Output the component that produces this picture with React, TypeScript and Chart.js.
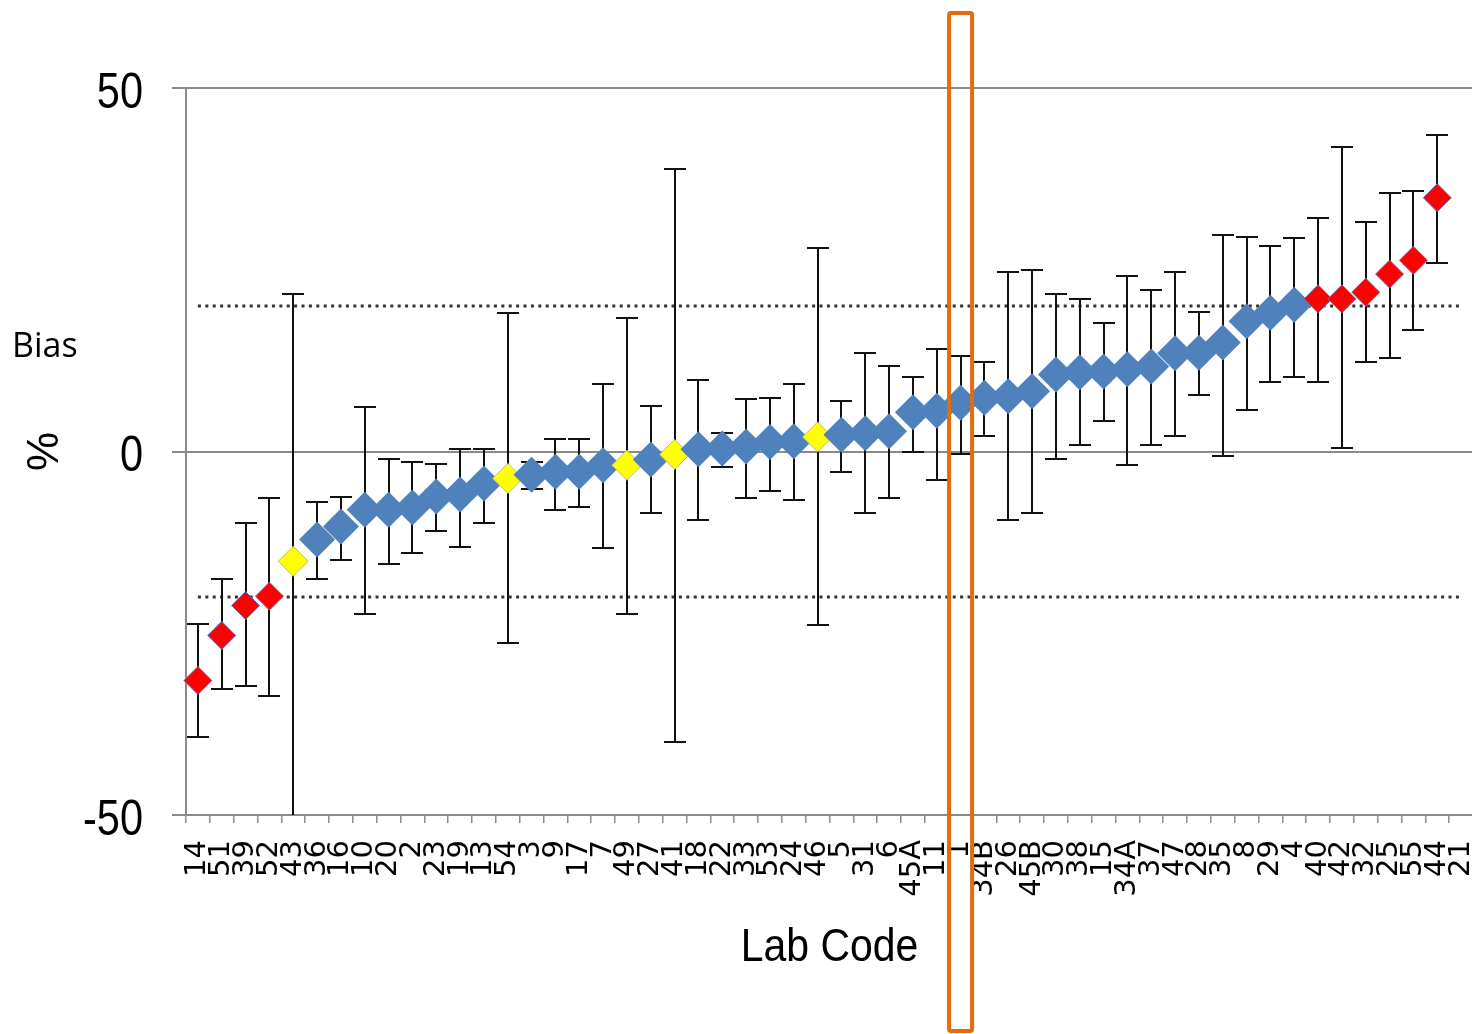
import React, { useEffect, useRef } from 'react';
import { Chart, registerables } from 'chart.js';

Chart.register(...registerables);

// ---- data ----
const labCodes = ['14','51','39','52','43','36','16','10','20','2','23','19','13','54','3','9','17','7','49','27','41','18','22','33','53','24','46','5','31','6','45A','11','1','34B','26','45B','30','38','15','34A','37','47','28','35','8','29','4','40','42','32','25','55','44','21'];

const biasValues: (number | null)[] = [-31.5,-25.3,-21.2,-19.9,-15.1,-12.1,-10.3,-8.0,-8.0,-7.7,-6.2,-5.9,-4.4,-3.7,-3.2,-2.8,-2.8,-1.9,-1.9,-1.1,-0.4,0.3,0.4,0.7,1.3,1.4,2.0,2.3,2.5,2.8,5.4,5.6,6.7,7.4,7.6,8.3,10.6,10.9,11.0,11.3,11.7,13.5,13.6,15.0,17.9,19.1,20.2,21.0,21.0,21.9,24.4,26.3,34.9,null];

const upperBound: (number | null)[] = [-23.7,-17.6,-9.8,-6.4,21.6,-7.0,-6.2,6.1,-1.0,-1.4,-1.7,0.4,0.4,19.0,-1.5,1.7,1.7,9.3,18.3,6.2,38.9,9.9,2.6,7.2,7.4,9.3,28.0,6.9,13.5,11.7,10.2,14.1,13.2,12.3,24.7,24.9,21.7,21.0,17.7,24.1,22.2,24.7,19.2,29.8,29.5,28.2,29.3,32.1,41.9,31.6,35.6,35.8,43.6,null];

const lowerBound: (number | null)[] = [-39.3,-32.6,-32.3,-33.6,-55,-17.6,-14.9,-22.4,-15.5,-13.9,-10.9,-13.1,-9.8,-26.3,-5.2,-8.1,-7.6,-13.3,-22.4,-8.5,-39.9,-9.4,-2.1,-6.4,-5.5,-6.7,-23.9,-2.8,-8.5,-6.4,-0.1,-3.9,-0.3,2.1,-9.4,-8.5,-1.0,0.9,4.2,-1.9,0.9,2.1,7.8,-0.6,5.7,9.6,10.2,9.6,0.5,12.3,12.9,16.7,25.9,null];

// marker class per lab: 'red' = outside limits, 'yellow' = flagged, 'blue' = ok
const markerClass: (string | null)[] = [
  'red','red','red','red','yellow',
  'blue','blue','blue','blue','blue','blue','blue','blue',
  'yellow',
  'blue','blue','blue','blue',
  'yellow','blue','yellow',
  'blue','blue','blue','blue','blue',
  'yellow',
  'blue','blue','blue','blue','blue','blue','blue','blue','blue','blue',
  'blue','blue','blue','blue','blue','blue','blue','blue','blue','blue',
  'red','red','red','red','red','red',
  null,
];

const limitLines = [20, -20];
const yTicks = [-50, 0, 50];
const highlightLab = '1';
const xTitle = 'Lab Code';
const yTitle = '%';
const sideNote = 'Bias';

const SANS = "'Liberation Sans', Arial, sans-serif";
const GRID = '#8a8a8a';

const fillFor: Record<string, string> = { red: '#FF0000', yellow: '#FFFF00', blue: '#4F81BD' };
const borderFor: Record<string, string> = { red: '#6F6FC0', yellow: '#B5BC8C', blue: '#4F81BD' };
const radiusFor: Record<string, number> = { red: 14, yellow: 15, blue: 18 };

export default function App() {
  const ref = useRef<HTMLCanvasElement>(null);

  useEffect(() => {
    document.body.style.margin = '0';
    const canvas = ref.current;
    if (!canvas) return;

    const decorations = {
      id: 'decorations',
      beforeDatasetsDraw(chart: any) {
        const { ctx, chartArea } = chart;
        const xs = chart.scales.x;
        const ys = chart.scales.y;
        // limit lines
        ctx.save();
        ctx.strokeStyle = '#333';
        ctx.lineWidth = 3;
        ctx.setLineDash([3, 4.4]);
        const x0 = xs.getPixelForValue(0);
        const x1 = xs.getPixelForValue(labCodes.length - 1);
        limitLines.forEach((v) => {
          const y = Math.round(ys.getPixelForValue(v));
          ctx.beginPath();
          ctx.moveTo(x0, y);
          ctx.lineTo(x1, y);
          ctx.stroke();
        });
        ctx.restore();
        // error bars
        ctx.save();
        ctx.beginPath();
        ctx.rect(chartArea.left, chartArea.top - 2, chartArea.right - chartArea.left, chartArea.bottom - chartArea.top + 2);
        ctx.clip();
        ctx.strokeStyle = '#111';
        ctx.lineWidth = 2;
        const cap = 11;
        labCodes.forEach((_, i) => {
          const hi = upperBound[i];
          const lo = lowerBound[i];
          if (hi == null || lo == null) return;
          const x = Math.round(xs.getPixelForValue(i));
          const yh = Math.round(ys.getPixelForValue(hi));
          const yl = Math.round(ys.getPixelForValue(lo));
          ctx.beginPath();
          ctx.moveTo(x, yh);
          ctx.lineTo(x, yl);
          ctx.moveTo(x - cap, yh);
          ctx.lineTo(x + cap, yh);
          ctx.moveTo(x - cap, yl);
          ctx.lineTo(x + cap, yl);
          ctx.stroke();
        });
        ctx.restore();
      },
      afterDraw(chart: any) {
        const { ctx, chartArea } = chart;
        const xs = chart.scales.x;
        const ys = chart.scales.y;
        ctx.save();
        ctx.fillStyle = '#000';

        // y tick labels (condensed)
        yTicks.forEach((v) => {
          const y = ys.getPixelForValue(v);
          ctx.save();
          ctx.translate(ys.right - 43, y + 19.5);
          ctx.scale(0.83, 1);
          ctx.font = `50px ${SANS}`;
          ctx.textAlign = 'right';
          ctx.textBaseline = 'alphabetic';
          ctx.fillText(String(v), 0, 0);
          ctx.restore();
        });

        // x axis title (condensed)
        ctx.save();
        ctx.translate((chartArea.left + chartArea.right) / 2, 961);
        ctx.scale(0.89, 1);
        ctx.font = `46px ${SANS}`;
        ctx.textAlign = 'center';
        ctx.textBaseline = 'alphabetic';
        ctx.fillText(xTitle, 0, 0);
        ctx.restore();

        // side note
        ctx.font = "34px 'Open Sans', sans-serif";
        ctx.textAlign = 'left';
        ctx.textBaseline = 'alphabetic';
        ctx.fillText(sideNote, 12, 357);

        // highlight box around a lab
        const idx = labCodes.indexOf(highlightLab);
        const cx = xs.getPixelForValue(idx);
        const half = 11.5;
        ctx.strokeStyle = '#E46C0A';
        ctx.lineWidth = 4;
        ctx.beginPath();
        const top = 13;
        const bottom = chart.height - 3;
        if ((ctx as any).roundRect) {
          (ctx as any).roundRect(cx - half, top, half * 2, bottom - top, 2);
        } else {
          ctx.rect(cx - half, top, half * 2, bottom - top);
        }
        ctx.stroke();
        ctx.restore();
      },
    };

    const chart = new Chart(canvas, {
      type: 'line',
      data: {
        labels: labCodes,
        datasets: [
          {
            data: biasValues,
            showLine: false,
            pointStyle: 'rectRot',
            pointRadius: markerClass.map((c) => (c ? radiusFor[c] : 0)),
            pointBackgroundColor: markerClass.map((c) => (c ? fillFor[c] : 'transparent')),
            pointBorderColor: markerClass.map((c) => (c ? borderFor[c] : 'transparent')),
            pointBorderWidth: markerClass.map((c) => (c === 'blue' ? 0 : 1)),
          },
        ],
      },
      options: {
        responsive: false,
        animation: false,
        devicePixelRatio: 1,
        events: [],
        layout: { padding: { left: 0, right: 45, top: 88, bottom: 0 } },
        plugins: { legend: { display: false }, tooltip: { enabled: false } },
        scales: {
          x: {
            type: 'category',
            offset: true,
            grid: { offset: true, drawOnChartArea: false, drawTicks: true, tickLength: 8, color: GRID, lineWidth: 1.5 },
            border: { display: true, color: GRID, width: 2 },
            ticks: {
              autoSkip: false,
              minRotation: 90,
              maxRotation: 90,
              padding: 17,
              color: '#000',
              font: { family: "'DejaVu Sans', sans-serif", size: 29 },
            },
            title: { display: false, text: xTitle },
            afterFit: (s: any) => { s.height = 219; },
          },
          y: {
            min: -50,
            max: 50,
            afterBuildTicks: (s: any) => { s.ticks = yTicks.map((v) => ({ value: v })); },
            grid: { color: GRID, lineWidth: 2, tickLength: 14 },
            border: { display: true, color: GRID, width: 2 },
            ticks: { display: false },
            title: {
              display: true,
              text: yTitle,
              color: '#000',
              font: { family: SANS, size: 44 },
              padding: { top: 19, bottom: 0 },
            },
            afterFit: (s: any) => { s.width = 186; },
          },
        },
      },
      plugins: [decorations],
    } as any);

    return () => chart.destroy();
  }, []);

  return (
    <div style={{ position: 'fixed', left: 0, top: 0, width: 1472, height: 1034, overflow: 'hidden', background: '#fff' }}>
      <canvas ref={ref} width={1518} height={1034} style={{ display: 'block', width: 1518, height: 1034 }} />
    </div>
  );
}
